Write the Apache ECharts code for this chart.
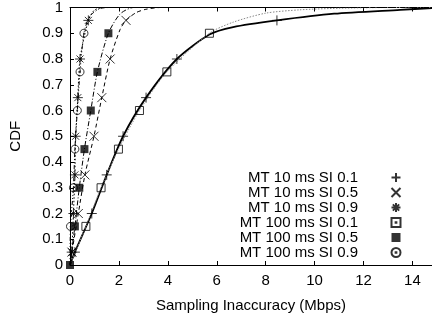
<!DOCTYPE html>
<html>
<head>
<meta charset="utf-8">
<script src="https://cdn.jsdelivr.net/npm/echarts@6/dist/echarts.min.js"></script>
<style>
  html, body { margin: 0; padding: 0; background: #fff; }
  #chart { width: 432px; height: 318px; }
</style>
</head>
<body>
<div id="chart"></div>
<script>
// ============================================
// 数据 (x = Mbps, y = CDF)
// ============================================
const seriesNames = [
    'MT 10 ms SI 0.1',
    'MT 10 ms SI 0.5',
    'MT 10 ms SI 0.9',
    'MT 100 ms SI 0.1',
    'MT 100 ms SI 0.5',
    'MT 100 ms SI 0.9'
];

// 标记点
const marks10s01 = [[0.2, 0.05], [0.89, 0.2], [1.5, 0.35], [2.17, 0.5], [3.11, 0.65], [4.37, 0.8], [8.46, 0.95]];
const marks10s05 = [[0.08, 0.05], [0.34, 0.2], [0.61, 0.35], [0.98, 0.5], [1.3, 0.65], [1.64, 0.8], [2.29, 0.95]];
const marks10s09 = [[0.07, 0.05], [0.14, 0.2], [0.2, 0.35], [0.23, 0.5], [0.32, 0.65], [0.41, 0.8], [0.75, 0.95]];
const marks100s01 = [[0.65, 0.15], [1.27, 0.3], [1.98, 0.45], [2.84, 0.6], [3.96, 0.75], [5.7, 0.9]];
const marks100s05 = [[0, 0], [0.2, 0.15], [0.38, 0.3], [0.59, 0.45], [0.85, 0.6], [1.12, 0.75], [1.57, 0.9]];
const marks100s09 = [[0.02, 0.15], [0.14, 0.3], [0.2, 0.45], [0.3, 0.6], [0.41, 0.75], [0.57, 0.9]];

// 曲线
const curve10s01 = [[0, 0], [0.2, 0.05], [0.89, 0.2], [1.5, 0.35], [2.17, 0.5], [3.11, 0.65], [4.37, 0.8], [5.7, 0.895], [6.67, 0.924], [8.46, 0.95], [10.8, 0.976], [13.5, 0.991], [14.8, 0.998]];
const curve10s05 = [[0, 0], [0.08, 0.05], [0.34, 0.2], [0.61, 0.35], [0.98, 0.5], [1.3, 0.65], [1.64, 0.8], [2.05, 0.915], [2.29, 0.95], [2.7, 0.98], [3.1, 0.993], [3.7, 1], [14.8, 1]];
const curve10s09 = [[0, 0], [0.07, 0.05], [0.14, 0.2], [0.2, 0.35], [0.23, 0.5], [0.32, 0.65], [0.41, 0.8], [0.75, 0.95], [1.0, 0.99], [1.4, 1], [14.8, 1]];
const curve100s01 = [[0, 0], [0.65, 0.15], [1.27, 0.3], [1.98, 0.45], [2.84, 0.6], [3.96, 0.75], [5.7, 0.9], [6.67, 0.943], [8.0, 0.978], [9.4, 0.991], [11, 0.997], [13, 1], [14.8, 1]];
const curve100s05 = [[0, 0], [0.2, 0.15], [0.38, 0.3], [0.59, 0.45], [0.85, 0.6], [1.12, 0.75], [1.57, 0.9], [2.05, 0.975], [2.6, 1], [14.8, 1]];
const curve100s09 = [[0, 0], [0.02, 0.15], [0.14, 0.3], [0.2, 0.45], [0.3, 0.6], [0.41, 0.75], [0.57, 0.9], [0.8, 0.965], [1.2, 0.995], [1.6, 1], [14.8, 1]];

// ============================================
// 样式
// ============================================
const FONT = 'Liberation Sans';
const FONT_SIZE = 15;
const SYM_PLUS = 'path://M0,5H10M5,0V10';
const SYM_CROSS = 'path://M0,0L10,10M10,0L0,10';
const SYM_STAR = 'path://M5,0V10M0,5H10M1.5,1.5L8.5,8.5M8.5,1.5L1.5,8.5';
const SYM_BOX = 'path://M0,0H10V10H0Z';
const SYM_BOX_DOT = 'path://M0,0H10V10H0ZM4.6,4.6H5.4V5.4H4.6Z';
const SYM_CIRCLE_DOT = 'path://M10,5C10,7.76 7.76,10 5,10C2.24,10 0,7.76 0,5C0,2.24 2.24,0 5,0C7.76,0 10,2.24 10,5ZM4.6,4.6H5.4V5.4H4.6Z';

const outline = { color: 'none', borderColor: '#000', borderWidth: 1 };

function curveSeries(data, lineStyle) {
    return {
        type: 'line',
        data: data,
        smooth: 0.25,
        showSymbol: false,
        silent: true,
        lineStyle: Object.assign({ color: '#000', width: 1 }, lineStyle),
        z: 2
    };
}

function markSeries(name, data, symbol, size, itemStyle) {
    return {
        type: 'scatter',
        name: name,
        data: data,
        symbol: symbol,
        symbolSize: size,
        itemStyle: itemStyle,
        z: 3
    };
}

const chart = echarts.init(document.getElementById('chart'), null, { renderer: 'canvas' });

const option = {
    animation: false,
    textStyle: { fontFamily: FONT, color: '#000' },
    grid: { left: 70, right: 0, top: 7, bottom: 52.3 },
    xAxis: [{
        type: 'value',
        min: 0,
        max: 14.8,
        interval: 2,
        name: 'Sampling Inaccuracy (Mbps)',
        nameLocation: 'middle',
        nameGap: 33,
        nameTextStyle: { fontFamily: FONT, fontSize: FONT_SIZE, color: '#000' },
        axisLine: { lineStyle: { color: '#000', width: 1 } },
        axisTick: { inside: true, length: 4, lineStyle: { color: '#000' } },
        axisLabel: { fontFamily: FONT, fontSize: FONT_SIZE, color: '#000', margin: 8, showMaxLabel: false },
        splitLine: { show: false }
    }, {
        type: 'value',
        position: 'top',
        min: 0,
        max: 14.8,
        interval: 2,
        axisLine: { lineStyle: { color: '#000', width: 1 } },
        axisTick: { inside: true, length: 4, lineStyle: { color: '#000' } },
        axisLabel: { show: false },
        splitLine: { show: false }
    }],
    yAxis: {
        type: 'value',
        min: 0,
        max: 1,
        interval: 0.1,
        name: 'CDF',
        nameLocation: 'middle',
        nameGap: 47,
        nameTextStyle: { fontFamily: FONT, fontSize: FONT_SIZE, color: '#000' },
        axisLine: { show: true, lineStyle: { color: '#000', width: 1 } },
        axisTick: { show: true, inside: true, length: 4, lineStyle: { color: '#000' } },
        axisLabel: { fontFamily: FONT, fontSize: FONT_SIZE, color: '#000', margin: 7 },
        splitLine: { show: false }
    },
    legend: {
        orient: 'vertical',
        align: 'right',
        right: 29,
        top: 170,
        padding: 0,
        itemWidth: 66,
        itemHeight: 9,
        itemGap: 0,
        selectedMode: false,
        symbolKeepAspect: true,
        textStyle: { fontFamily: FONT, fontSize: FONT_SIZE, color: '#000' },
        data: [
            { name: seriesNames[0] },
            { name: seriesNames[1] },
            { name: seriesNames[2] },
            { name: seriesNames[3], icon: SYM_BOX_DOT },
            { name: seriesNames[4] },
            { name: seriesNames[5] }
        ]
    },
    series: [
        curveSeries(curve10s01, { width: 1.8 }),
        curveSeries(curve10s05, { type: [4, 3] }),
        curveSeries(curve10s09, { type: [1.5, 2] }),
        curveSeries(curve100s01, { color: '#888', type: [1.5, 1.5] }),
        curveSeries(curve100s05, { type: [5, 2, 1, 2] }),
        curveSeries(curve100s09, { type: [4, 2, 1, 2, 1, 2] }),
        markSeries(seriesNames[0], marks10s01, SYM_PLUS, 10, outline),
        markSeries(seriesNames[1], marks10s05, SYM_CROSS, 9, outline),
        markSeries(seriesNames[2], marks10s09, SYM_STAR, 10, outline),
        markSeries(seriesNames[3], marks100s01, SYM_BOX, 8, outline),
        markSeries(seriesNames[5], marks100s09, SYM_CIRCLE_DOT, 8, outline),
        markSeries(seriesNames[4], marks100s05, SYM_BOX, 8, { color: '#000' })
    ]
};

chart.setOption(option);
</script>
</body>
</html>
